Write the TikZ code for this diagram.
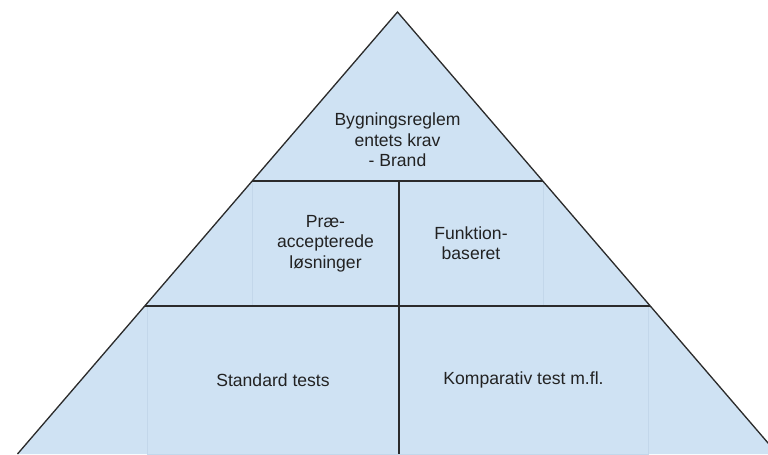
\documentclass[tikz,border=0pt]{standalone}
\usepackage{fontspec}
\setmainfont{Liberation Sans}
\usepackage{tikz}
\usetikzlibrary{calc}

\definecolor{pyrfill}{HTML}{CFE2F3}
\definecolor{pyrline}{HTML}{2B2B2B}
\definecolor{boxedge}{HTML}{C3D7EA}
\definecolor{txtcol}{HTML}{222222}

\begin{document}
\begin{tikzpicture}[x=0.02cm, y=-0.02cm]
	\tikzset{divider/.style = {draw=pyrline, line width=0.75pt}}
	\tikzset{field/.style = {draw=boxedge, line width=0.4pt, align=center, text=txtcol,
		font=\fontsize{10}{11.6}\selectfont, inner sep=0pt}}
	\useasboundingbox (0, 0) rectangle (768, 454);
	\clip (0, 0) rectangle (768, 454);
	% corners of the pyramid
	\coordinate (apex) at (397.5, 12);
	\coordinate (bl) at (17.5, 454);
	\coordinate (br) at (777.5, 454);
	\coordinate (l1) at ($(apex)!{169/442}!(bl)$);
	\coordinate (r1) at ($(apex)!{169/442}!(br)$);
	\coordinate (l2) at ($(apex)!{294/442}!(bl)$);
	\coordinate (r2) at ($(apex)!{294/442}!(br)$);
	\coordinate (m1) at (399, 181);
	\coordinate (m3) at (399, 454);
	\fill[pyrfill] (apex) -- (bl) -- (br) -- cycle;
	% text fields
	\node[field, minimum width=2.94cm, minimum height=2.5cm] (prae) at (325.5, 243.5) {Præ-\\accepterede\\løsninger};
	\node[field, minimum width=2.88cm, minimum height=2.5cm] (funk) at (471, 243.5) {Funktion-\\baseret};
	\node[field, draw=none] (top) at (397.5, 140) {Bygningsreglem\\entets krav\\- Brand};
	\node[field, minimum width=5.04cm, minimum height=2.96cm] (std) at (273, 380) {Standard tests};
	\node[field, minimum width=4.98cm, minimum height=2.96cm] (komp) at (523.5, 380) {Komparativ test m.fl.};
	% dividers
	\draw[divider] (l1) -- (r1);
	\draw[divider] (l2) -- (r2);
	\draw[divider] (m1) -- (m3);
	\draw[divider, line join=miter] (bl) -- (apex) -- (br);
\end{tikzpicture}
\end{document}
